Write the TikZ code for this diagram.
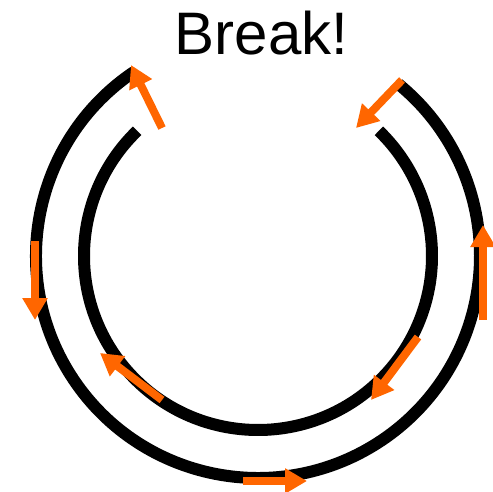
\documentclass[tikz,border=0pt]{standalone}
\usepackage{fontspec}
\setmainfont{Liberation Sans}
\usepackage{tikz}
\usetikzlibrary{arrows.meta}
\definecolor{breakorange}{HTML}{FF6600}
\tikzstyle{ring} = [draw=black, line width=12pt]
\tikzstyle{flow} = [-{Triangle[length=22pt, width=24pt]}, draw=breakorange, line width=8pt]

\begin{document}
\begin{tikzpicture}[x=1pt, y=1pt]

  \useasboundingbox (0, 0) rectangle (493, 491);

  \coordinate (centre) at (258, 235);

  % the two rings, opened at the top
  \draw[ring] (centre) ++(124:222) arc[start angle=124, end angle=410.8, radius=222];
  \draw[ring] (centre) ++(134:174) arc[start angle=134, end angle=406, radius=174];

  \node[font=\fontsize{60}{62}\selectfont, anchor=base] (title) at (261.5, 436) {Break!};

  % arrow end points
  \coordinate (innerleft) at (162, 363);
  \coordinate (outerleft) at (131, 426);
  \coordinate (outerright) at (402, 411);
  \coordinate (innerright) at (356, 363);
  \coordinate (westtop) at (35, 250);
  \coordinate (westbot) at (35, 171);
  \coordinate (eastbot) at (483, 171);
  \coordinate (easttop) at (483, 266);
  \coordinate (swtail) at (162, 91);
  \coordinate (swtip) at (100, 138);
  \coordinate (southtail) at (243, 10);
  \coordinate (southtip) at (307, 10);
  \coordinate (setail) at (418, 154);
  \coordinate (setip) at (371, 91);

  \draw[flow] (innerleft) -- (outerleft);
  \draw[flow] (outerright) -- (innerright);
  \draw[flow] (westtop) -- (westbot);
  \draw[flow] (eastbot) -- (easttop);
  \draw[flow] (swtail) -- (swtip);
  \draw[flow] (southtail) -- (southtip);
  \draw[flow] (setail) -- (setip);

\end{tikzpicture}
\end{document}
